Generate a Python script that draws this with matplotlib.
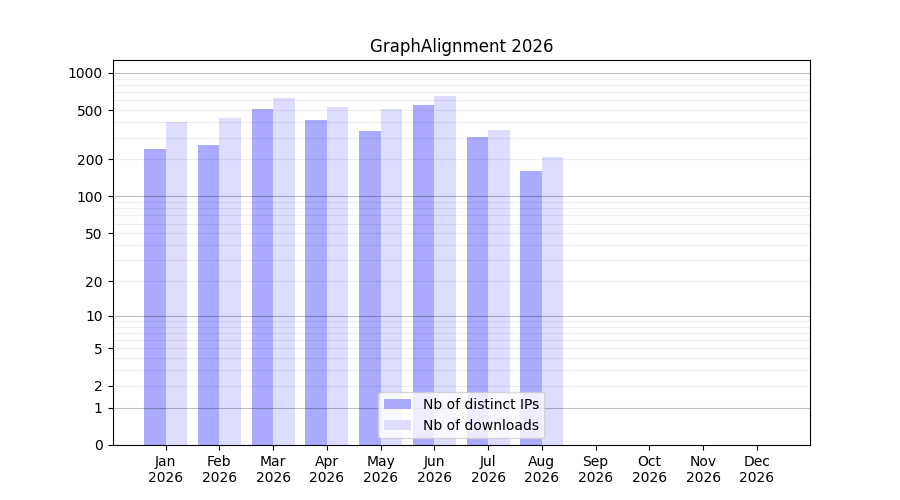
import numpy as np
from matplotlib import pyplot as plt
from matplotlib.ticker import FixedLocator, NullLocator

months = ["Jan", "Feb", "Mar", "Apr", "May", "Jun", "Jul", "Aug", "Sep", "Oct", "Nov", "Dec"]
year = "2026"
distinct_ips = [244, 259, 514, 419, 341, 554, 304, 162, 0, 0, 0, 0]
downloads = [404, 435, 631, 534, 513, 654, 348, 210, 0, 0, 0, 0]

def fwd(v):
    return np.log10(1 + np.asarray(v, dtype=float))

def inv(v):
    return 10 ** np.asarray(v, dtype=float) - 1

fig = plt.figure(figsize=(9, 5), dpi=100)
ax = plt.subplot(111)
x = np.arange(len(months))
ax.bar(x, distinct_ips, width=-0.4, align='edge', color='#aaaaff', label='Nb of distinct IPs')
ax.bar(x, downloads, width=0.4, align='edge', color='#ddddff', label='Nb of downloads')

ax.set_yscale('function', functions=(fwd, inv))
ax.set_ylim(0, 1270)
major = [0, 1, 2, 5, 10, 20, 50, 100, 200, 500, 1000]
ax.yaxis.set_major_locator(FixedLocator(major))
ax.set_yticklabels([str(m) for m in major])
ax.yaxis.set_minor_locator(NullLocator())

# grid: decades darker, the rest faint, drawn over the bars
for d in (1, 10, 100):
    for m in range(2, 10):
        ax.axhline(m * d, color='black', alpha=0.07, linewidth=0.8, zorder=2.5)
for v in [1, 10, 100, 1000]:
    ax.axhline(v, color='black', alpha=0.25, linewidth=0.8, zorder=2.5)

ax.set_xticks(x)
ax.set_xticklabels([m + "\n" + year for m in months])
ax.set_xlim(-0.99, 11.99)
ax.set_title('GraphAlignment 2026')
ax.legend(loc='lower center')

plt.savefig('out.png')
